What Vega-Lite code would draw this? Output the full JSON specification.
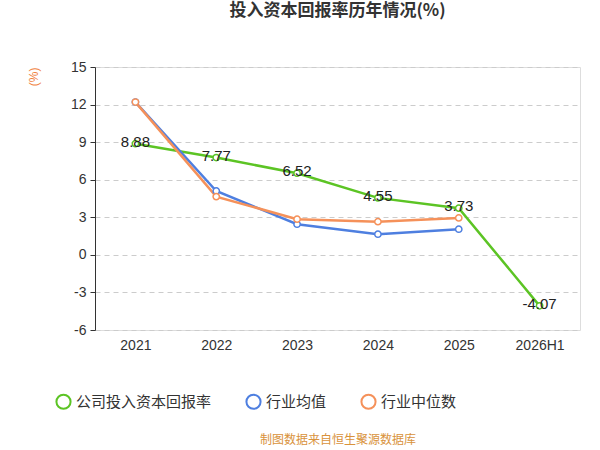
{
"$schema":"https://vega.github.io/schema/vega-lite/v6.json",
"width":485,"height":263,
"autosize":{"type":"none"},
"padding":{"left":95,"top":67,"right":20,"bottom":120},
"background":"white",
"config":{"locale":{"number":{"decimal":".","thousands":",","grouping":[3],"currency":["",""],"minus":"-"}}},
"title":{"text":"投入资本回报率历年情况(%)","fontSize":17,"fontWeight":"bold","color":"#333","offset":40,"font":"Noto Sans CJK SC","anchor":"middle"},
"data":{"values":[
{"year":"2021","s":"公司投入资本回报率","v":8.88},
{"year":"2022","s":"公司投入资本回报率","v":7.77},
{"year":"2023","s":"公司投入资本回报率","v":6.52},
{"year":"2024","s":"公司投入资本回报率","v":4.55},
{"year":"2025","s":"公司投入资本回报率","v":3.73},
{"year":"2026H1","s":"公司投入资本回报率","v":-4.07},
{"year":"2021","s":"行业均值","v":12.2},
{"year":"2022","s":"行业均值","v":5.1},
{"year":"2023","s":"行业均值","v":2.45},
{"year":"2024","s":"行业均值","v":1.65},
{"year":"2025","s":"行业均值","v":2.05},
{"year":"2021","s":"行业中位数","v":12.2},
{"year":"2022","s":"行业中位数","v":4.65},
{"year":"2023","s":"行业中位数","v":2.85},
{"year":"2024","s":"行业中位数","v":2.65},
{"year":"2025","s":"行业中位数","v":2.95}
]},
"encoding":{
"x":{"field":"year","type":"ordinal","scale":{"type":"point","padding":0.5},
 "axis":{"title":"制图数据来自恒生聚源数据库","titleColor":"#d9923b","titleFontSize":12,"titleFontWeight":"normal","titlePadding":82,"titleFont":"Noto Sans CJK SC","labelAngle":0,"labelFontSize":14,"labelColor":"#333","labelPadding":8,"domain":false,"ticks":false}},
"y":{"field":"v","type":"quantitative","scale":{"domain":[-6,15],"nice":false},
 "axis":{"values":[-6,-3,0,3,6,9,12,15],"title":"(%)","titleColor":"#f07f3c","titleFontWeight":"normal","titleFontSize":12,"titleAnchor":"end","titlePadding":30,"labelFontSize":14,"labelColor":"#333","gridDash":[5,4],"gridColor":"#ccc","domainColor":"#333","tickColor":"#333","labelPadding":4}},
"color":{"field":"s","type":"nominal","scale":{"domain":["公司投入资本回报率","行业均值","行业中位数"],"range":["#5cc424","#4e7fe0","#f5915a"]},
 "legend":{"orient":"none","direction":"horizontal","legendX":-40,"legendY":326,"title":null,"labelFontSize":15,"labelColor":"#333","symbolType":"circle","symbolSize":200,"symbolFillColor":"white","symbolStrokeWidth":2,"columnPadding":30,"labelFont":"Noto Sans CJK SC"}}
},
"layer":[
{"mark":{"type":"line","strokeWidth":2.5}},
{"mark":{"type":"point","filled":false,"fill":"white","fillOpacity":1,"size":40,"strokeWidth":1.5,"opacity":1}},
{"transform":[{"filter":"datum.s==='公司投入资本回报率'"}],
 "mark":{"type":"text","fontSize":15,"color":"#222","dy":-2},
 "encoding":{"text":{"field":"v","type":"quantitative","format":".2f"},"color":{"value":"#222"}}}
]
}
